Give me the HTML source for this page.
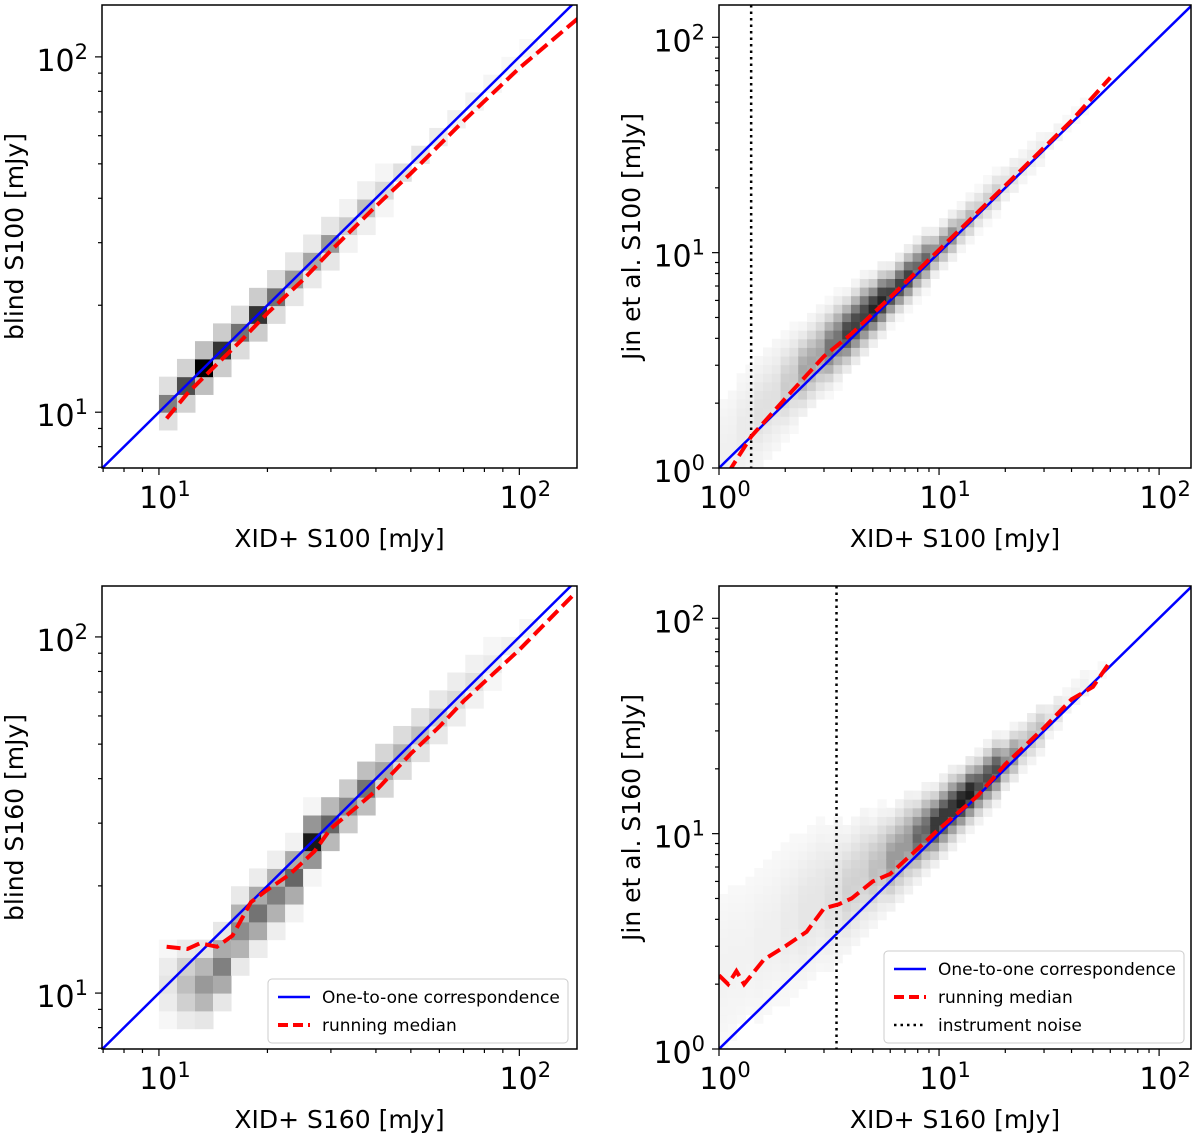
<!DOCTYPE html>
<html><head><meta charset="utf-8"><style>
body{margin:0;background:#fff;}
svg{display:block;font-family:"DejaVu Sans","Liberation Sans",sans-serif;}
</style></head><body>
<svg id="fig" width="1200" height="1137" viewBox="0 0 1200 1137" xmlns="http://www.w3.org/2000/svg"></svg>
<script>
// ---- data ----
const tlDens=[0.5,0.7,1.0,0.8,0.55,0.8,0.55,0.4,0.35,0.4,0.2,0.25,0.15,0.12,0.1,0.08,0.06,0.05,0.04,0.03,0.03];
const tlOff=[0,0,0,0,0,0,0,0,0,0,0,0,0,0,0,0,0,0,0,0,0];
const tlSpread=[0.6,0.6,0.6,0.6,0.6,0.6,0.6,0.6,0.6,0.6,0.6,0.6,0.6,0.6,0.6,0.6,0.6,0.6,0.6,0.6,0.6];
const blDens=[0.1,0.25,0.4,0.5,0.45,0.55,0.5,0.6,0.9,0.6,0.45,0.55,0.35,0.3,0.25,0.2,0.15,0.12,0.08,0.06,0.04];
const blOff=[0,-1,-2,-2,-1,-1,-1,-1,0,0,0,0,0,0,0,0,0,0,0,0,0];
const blSpread=[1.3,1.3,1.2,1.1,1.1,1,1,0.9,0.8,0.8,0.8,0.8,0.8,0.8,0.8,0.8,0.8,0.8,0.8,0.8,0.8];
const trDens=[0.06,0.08,0.12,0.2,0.35,0.55,0.75,0.85,0.75,0.6,0.45,0.3,0.2,0.12,0.08,0.05,0.03,0.02,0.01];
const trOff=[0.05,0.07,0.08,0.08,0.07,0.06,0.05,0.04,0.03,0.03,0.02,0.02,0.02,0.02,0.02,0.02,0.02,0.02,0.02];
const trSpread=[0.2,0.18,0.15,0.12,0.1,0.09,0.08,0.07,0.06,0.06,0.05,0.05,0.05,0.05,0.05,0.05,0.05,0.05,0.05];
const brDens=[0.05,0.05,0.06,0.08,0.1,0.12,0.18,0.25,0.4,0.6,0.8,0.9,0.7,0.45,0.25,0.12,0.06,0.03,0.02];
const brOff=[0.35,0.33,0.3,0.28,0.25,0.2,0.16,0.13,0.1,0.08,0.06,0.05,0.04,0.03,0.03,0.03,0.03,0.03,0.03];
const brSpread=[0.3,0.28,0.26,0.24,0.22,0.2,0.16,0.13,0.11,0.09,0.08,0.07,0.07,0.06,0.06,0.05,0.05,0.05,0.05];
const tlMedX=[10.5,12,14,17,20,25,30,40,50,70,100,145];
const tlMedY=[9.6,11.3,13.2,16,19,23.5,28.5,38,47,66,93,128];
const trMedX=[1.1,1.4,2,3,4,6,10,20,40,60];
const trMedY=[0.95,1.4,2.1,3.3,4.2,6.2,10.3,20.5,41,65];
const blMedX=[10.5,12,13,14.5,16,18,20,23,27,30,35,40,50,60,70,100,140];
const blMedY=[13.5,13.3,13.8,13.5,14.5,18,19.5,21.5,25,29,33,37,47,56,66,92,130];
const brMedX=[1.0,1.1,1.2,1.3,1.6,2,2.5,3,3.5,4,5,6,8,10,15,20,30,40,50,60];
const brMedY=[2.2,2.0,2.3,2.0,2.6,3.0,3.5,4.5,4.7,5.0,6.0,6.5,8.5,10.5,15,21,31,42,48,63];
const trNoise=[1.4];
const brNoise=[3.42];
const xLabels=["XID+ S100 [mJy]","XID+ S100 [mJy]","XID+ S160 [mJy]","XID+ S160 [mJy]"];
const yLabels=["blind S100 [mJy]","Jin et al. S100 [mJy]","blind S160 [mJy]","Jin et al. S160 [mJy]"];
const legendLabels=["One-to-one correspondence","running median","instrument noise"];

const NS="http://www.w3.org/2000/svg";
const fig=document.getElementById('fig');
function mk(tag,attrs,parent){const e=document.createElementNS(NS,tag);for(const k in attrs)e.setAttribute(k,attrs[k]);(parent||fig).appendChild(e);return e;}

const panels=[
 {name:'top-left',x0:102,x1:577,y0:5,y1:468,lx0:0.842,lx1:2.16,ly0:0.843,ly1:2.146,dec:[1,2],id:0},
 {name:'top-right',x0:719,x1:1191,y0:5,y1:468,lx0:0,lx1:2.145,ly0:0,ly1:2.15,dec:[0,1,2],id:1},
 {name:'bottom-left',x0:102,x1:577,y0:586,y1:1049,lx0:0.842,lx1:2.16,ly0:0.843,ly1:2.143,dec:[1,2],id:2},
 {name:'bottom-right',x0:719,x1:1191,y0:586,y1:1049,lx0:0,lx1:2.145,ly0:0,ly1:2.15,dec:[0,1,2],id:3}
];

panels.forEach(p=>{
 const g=mk('g',{});
 
 
 const X=l=>p.x0+(l-p.lx0)/(p.lx1-p.lx0)*(p.x1-p.x0);
 const Y=l=>p.y1-(l-p.ly0)/(p.ly1-p.ly0)*(p.y1-p.y0);
 const clipId='clip'+p.id;
 const cp=mk('clipPath',{id:clipId},g);mk('rect',{x:p.x0,y:p.y0,width:p.x1-p.x0,height:p.y1-p.y0},cp);
 const plot=mk('g',{'clip-path':'url(#'+clipId+')'},g);
 const hm=mk('g',{},plot);
 
 
 const gray=v=>{const c=Math.round(255*(1-Math.min(1,v)));return `rgb(${c},${c},${c})`;};
 if(p.id===0||p.id===2){
  const dens=p.id===0?tlDens:blDens, off=p.id===0?tlOff:blOff, spr=p.id===0?tlSpread:blSpread;
  const w=0.05;
  dens.forEach((d,ix)=>{
   for(let k=-3;k<=3;k++){
    const iy=ix+off[ix]+k;
    const v=d*Math.exp(-(k*k)/(2*spr[ix]*spr[ix]));
    if(v<0.03)continue;
    const lx=1+ix*w, ly=1+iy*w;
    const r=mk('rect',{x:X(lx),y:Y(ly+w),width:X(lx+w)-X(lx)+0.5,height:Y(ly)-Y(ly+w)+0.5,fill:gray(v)},hm);
    
    
   }
  });
 } else {
  const dens=p.id===1?trDens:brDens, off=p.id===1?trOff:brOff, spr=p.id===1?trSpread:brSpread;
  const w=0.04;
  for(let lx=0;lx<2.1;lx+=w){
   const ci=Math.min(dens.length-1,Math.round(lx/0.1));
   if(lx>(dens.length-1)*0.1+0.05)break;
   for(let ly=0;ly<2.15;ly+=w){
    const dy=(ly+w/2)-(lx+w/2)-off[ci];
    const v=dens[ci]*Math.exp(-(dy*dy)/(2*spr[ci]*spr[ci]));
    if(v<0.025)continue;
    const r=mk('rect',{x:X(lx),y:Y(ly+w),width:X(lx+w)-X(lx)+0.5,height:Y(ly)-Y(ly+w)+0.5,fill:gray(v)},hm);
    
    
   }
  }
 }
 const lo=Math.min(p.lx0,p.ly0)-0.1, hi=Math.max(p.lx1,p.ly1)+0.1;
 const ol=mk('line',{x1:X(lo),y1:Y(lo),x2:X(hi),y2:Y(hi),stroke:'#0000ff','stroke-width':2.5},plot);
 
 
 const noise=p.id===1?trNoise:p.id===3?brNoise:[];
 noise.forEach(n=>{
  const nl=mk('line',{x1:X(Math.log10(n)),y1:p.y0,x2:X(Math.log10(n)),y2:p.y1,stroke:'#000','stroke-width':2.5,'stroke-dasharray':'2.5,4'},plot);
  
  
 });
 const mx=[tlMedX,trMedX,blMedX,brMedX][p.id], my=[tlMedY,trMedY,blMedY,brMedY][p.id];
 const pts=mx.map((v,i)=>X(Math.log10(v)).toFixed(1)+','+Y(Math.log10(my[i])).toFixed(1)).join(' ');
 const ml=mk('polyline',{points:pts,fill:'none',stroke:'#ff0000','stroke-width':4,'stroke-dasharray':'14,6'},plot);
 
 
 const sp=mk('rect',{x:p.x0,y:p.y0,width:p.x1-p.x0,height:p.y1-p.y0,fill:'none',stroke:'#000','stroke-width':1.5},g);
 
 
 for(let d=-1;d<=2;d++){for(let m=1;m<10;m++){
  const l=d+Math.log10(m); const major=m===1;const len=major?7:4;
  if(l>=p.lx0-1e-6&&l<=p.lx1){mk('line',{x1:X(l),y1:p.y1,x2:X(l),y2:p.y1+len,stroke:'#000','stroke-width':1.2},g);}
  if(l>=p.ly0-1e-6&&l<=p.ly1){mk('line',{x1:p.x0,y1:Y(l),x2:p.x0-len,y2:Y(l),stroke:'#000','stroke-width':1.2},g);}
 }}
 p.dec.forEach(d=>{
  const tx=mk('text',{x:X(d)+6,y:p.y1+40,'font-size':30,'text-anchor':'middle'},g);
  
  
  tx.innerHTML='10<tspan dy="-12" font-size="21">'+d+'</tspan>';
  const ty=mk('text',{x:p.x0-14,y:Y(d)+14,'font-size':30,'text-anchor':'end'},g);
  
  
  ty.innerHTML='10<tspan dy="-12" font-size="21">'+d+'</tspan>';
 });
 const xl=mk('text',{x:(p.x0+p.x1)/2,y:p.y1+79,'font-size':25,'text-anchor':'middle'},g);
 
 
 xl.textContent=xLabels[p.id];
 const yx=p.id%2===0?23:640;
 const yl=mk('text',{x:yx,y:(p.y0+p.y1)/2,'font-size':25,'text-anchor':'middle',transform:`rotate(-90 ${yx} ${(p.y0+p.y1)/2})`},g);
 
 
 yl.textContent=yLabels[p.id];
});

function legend(x,y,w,n){
 const g=mk('g',{});
 
 
 mk('rect',{x:x,y:y,width:w,height:n*28+8,rx:4,fill:'#fff','fill-opacity':0.85,stroke:'#ccc','stroke-width':1},g);
 const styles=[{s:'#0000ff',d:'',sw:2.5},{s:'#ff0000',d:'10,5',sw:4},{s:'#000',d:'2.5,4',sw:2.5}];
 for(let i=0;i<n;i++){
  const yy=y+18+i*28;
  mk('line',{x1:x+10,y1:yy,x2:x+42,y2:yy,stroke:styles[i].s,'stroke-width':styles[i].sw,'stroke-dasharray':styles[i].d},g);
  const t=mk('text',{x:x+54,y:yy+6,'font-size':17},g);
  
  
  t.textContent=legendLabels[i];
 }
}
legend(268,979,300,2);
legend(884,951,300,3);
</script>
</body></html>
